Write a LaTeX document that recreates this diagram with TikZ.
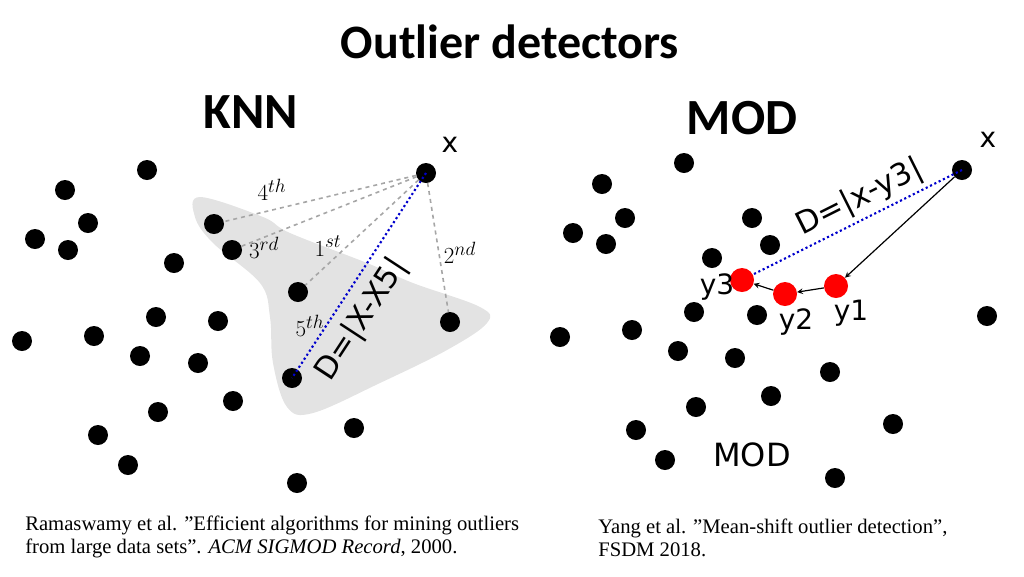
\documentclass[tikz,border=0pt]{standalone}
\usepackage{fontspec}
\setmainfont{Liberation Serif}
\newfontfamily\calfnt{Carlito}
\newfontfamily\dvfnt{DejaVu Sans}
\begin{document}
\begin{tikzpicture}[x=0.75pt,y=-0.75pt,
 dot/.style={circle,fill=black,inner sep=0pt,minimum size=20pt*0.75},
 rdot/.style={circle,fill=red,inner sep=0pt,minimum size=24pt*0.75},
 gd/.style={gray!70,dashed,line width=1.2pt},
 bd/.style={blue!80!black,dotted,line width=1.6pt},
 lab/.style={font=\fontsize{19}{19}\selectfont},
 sl/.style={font=\dvfnt\fontsize{21}{21}\selectfont},
 ttl/.style={font=\calfnt\bfseries\fontsize{38}{38}\selectfont},
 arr/.style={-stealth,line width=0.9pt}]
\useasboundingbox (0,0) rectangle (1024,576);
\fill[gray!22] plot[smooth cycle,tension=0.6] coordinates{(200,197)(263,217)(290,233)(367,263)(413,283)(480,307)(487,323)(447,350)(380,383)(313,413)(287,407)(273,363)(270,317)(260,283)(213,243)(195,217)};
\node[ttl,font=\calfnt\bfseries\fontsize{36}{36}\selectfont] (t) at (510,42) {Outlier detectors};
\node[ttl] (k) at (251,112) {KNN};
\node[ttl] (m) at (742,118) {MOD};
% KNN
\foreach \p [count=\i] in {(147,170),(65,190),(88,223),(35,239),(68,250),(174,263),(156,317),(218,321),(94,336),(22,341),(140,356),(198,363),(233,401),(158,412),(98,435),(354,428),(128,465),(297,483)}
 \node[dot] (k\i) at \p {};
\node[dot] (kx) at (426,173) {};
\node[dot] (n4) at (214,224) {};
\node[dot] (n3) at (232,250) {};
\node[dot] (n1) at (298,292) {};
\node[dot] (n2) at (450,322) {};
\node[dot] (n5) at (292,378) {};
\draw[gd] (kx) -- (n4); \draw[gd] (kx) -- (n3); \draw[gd] (kx) -- (n1); \draw[gd] (kx) -- (n2);
\draw[bd] (kx.center) -- (n5.center);
\node[sl] (kxl) at (450,145) {x};
\node[lab] (l4) at (272,190) {$4^{th}$};
\node[lab] (l3) at (264,248) {$3^{rd}$};
\node[lab] (l1) at (328,246) {$1^{st}$};
\node[lab] (l2) at (460,253) {$2^{nd}$};
\node[lab] (l5) at (310,326) {$5^{th}$};
\node[sl,rotate=56.8,font=\dvfnt\fontsize{23}{23}\selectfont] (dk) at (362,320) {D=|X-X5|};
% MOD
\foreach \p [count=\i] in {(684,163),(602,184),(625,218),(573,233),(606,244),(752,218),(770,245),(712,258),(694,312),(757,315),(987,316),(560,337),(632,330),(678,351),(735,358),(830,372),(771,396),(696,407),(893,424),(636,430),(665,460),(835,478)}
 \node[dot] (m\i) at \p {};
\node[dot] (mx) at (962,170) {};
\node[rdot] (y3) at (742,280) {};
\node[rdot] (y2) at (785,294) {};
\node[rdot] (y1) at (836,286) {};
\draw[bd] (mx.center) -- (y3);
\draw[arr] (mx) -- (y1);
\draw[arr] (y1) -- (y2);
\draw[arr] (y2) -- (y3);
\node[sl] (mxl) at (988,140) {x};
\node[sl] (y3l) at (717,287) {y3};
\node[sl] (y2l) at (796,322) {y2};
\node[sl] (y1l) at (851,313) {y1};
\node[sl,rotate=26.6,font=\dvfnt\fontsize{23}{23}\selectfont] (dm) at (860,198) {D=|x-y3|};
\node[sl,font=\dvfnt\fontsize{24}{24}\selectfont] (ml) at (752,455) {MOD};
\node[align=left,anchor=north west,inner sep=0pt,font=\fontsize{15.5}{17}\selectfont] (c1) at (25,516) {Ramaswamy et al. ”Efficient algorithms for mining outliers\\from large data sets”. \textit{ACM SIGMOD Record}, 2000.};
\node[align=left,anchor=north west,inner sep=0pt,font=\fontsize{15.5}{17}\selectfont] (c2) at (598,519) {Yang et al. ”Mean-shift outlier detection”,\\FSDM 2018.};
\end{tikzpicture}
\end{document}
